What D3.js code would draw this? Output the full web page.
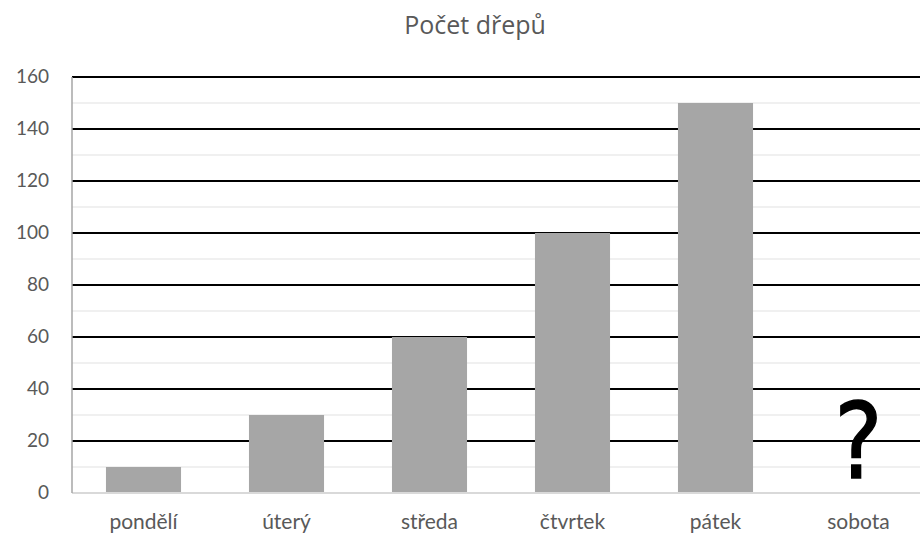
<html>
<head>
<meta charset="utf-8">
<script src="https://d3js.org/d3.v7.min.js"></script>
<style>
body { margin: 0; background: #fff; }
svg { display: block; }
</style>
</head>
<body>
<svg></svg>
<script>
var width = 920;
var height = 537;

// data
var days = ["pondělí", "úterý", "středa", "čtvrtek", "pátek", "sobota"];
var squats = [10, 30, 60, 100, 150, null];
var majorTicks = [0, 20, 40, 60, 80, 100, 120, 140, 160];
var minorTicks = [10, 30, 50, 70, 90, 110, 130, 150];

var margin = { top: 77, left: 72, bottom: 44 };
var plotRight = 930;

var svg = d3.select("svg").attr("width", width).attr("height", height);

var x = d3.scaleBand().domain(days).range([margin.left, plotRight]).paddingInner(0.475).paddingOuter(0.2375);
var y = d3.scaleLinear().domain([0, 160]).range([height - margin.bottom, margin.top]);

// minor gridlines
svg.selectAll("line.minor").data(minorTicks).enter().append("line")
	.attr("class", "minor")
	.attr("x1", margin.left).attr("x2", width)
	.attr("y1", function (d) { return y(d); }).attr("y2", function (d) { return y(d); })
	.style("stroke", "#f0f0f0").style("stroke-width", 2);

// major gridlines
svg.selectAll("line.major").data(majorTicks.filter(function (d) { return d > 0; })).enter().append("line")
	.attr("class", "major")
	.attr("x1", margin.left).attr("x2", width)
	.attr("y1", function (d) { return y(d); }).attr("y2", function (d) { return y(d); })
	.style("stroke", "#000").style("stroke-width", 2);

// bars
var barData = days.map(function (d, i) { return { day: d, value: squats[i] }; });
svg.selectAll("rect.bar").data(barData.filter(function (d) { return d.value !== null; })).enter().append("rect")
	.attr("class", "bar")
	.attr("x", function (d) { return x(d.day); })
	.attr("width", x.bandwidth())
	.attr("y", function (d) { return y(d.value); })
	.attr("height", function (d) { return y(0) - y(d.value); })
	.style("fill", "#a6a6a6");

// axes lines
svg.append("line")
	.attr("x1", margin.left).attr("x2", width)
	.attr("y1", y(0)).attr("y2", y(0))
	.style("stroke", "#d9d9d9").style("stroke-width", 2);
svg.append("line")
	.attr("x1", margin.left).attr("x2", margin.left)
	.attr("y1", y(160)).attr("y2", y(0))
	.style("stroke", "#a6a6a6").style("stroke-width", 1.5);

// y tick labels
svg.selectAll("text.ytick").data(majorTicks).enter().append("text")
	.attr("class", "ytick")
	.attr("x", 49)
	.attr("y", function (d) { return y(d) - 1; })
	.attr("dy", "0.35em")
	.attr("text-anchor", "end")
	.style("font-family", "Lato, 'Open Sans', sans-serif")
	.style("font-size", "19px")
	.style("fill", "#595959")
	.text(function (d) { return d; });

// category labels
svg.selectAll("text.xtick").data(days).enter().append("text")
	.attr("class", "xtick")
	.attr("x", function (d) { return x(d) + x.bandwidth() / 2; })
	.attr("y", y(0) + 29)
	.attr("dy", "0.35em")
	.attr("text-anchor", "middle")
	.style("font-family", "Lato, 'Open Sans', sans-serif")
	.style("font-size", "21px")
	.style("fill", "#595959")
	.text(function (d) { return d; });

// question mark for saturday
var qx = x("sobota") + x.bandwidth() / 2;
svg.append("text")
	.attr("x", qx)
	.attr("y", y(0) - 15)
	.attr("text-anchor", "middle")
	.style("font-family", "'DejaVu Sans', sans-serif")
	.style("font-size", "106px")
	.style("fill", "#000")
	.style("stroke", "#000")
	.style("stroke-width", 1.5)
	.attr("transform", "translate(" + qx + ",0) scale(0.86,1) translate(" + (-qx) + ",0)")
	.text("?");

// title
svg.append("text")
	.attr("x", 475)
	.attr("y", 34)
	.attr("text-anchor", "middle")
	.style("font-family", "'Open Sans', sans-serif")
	.style("font-size", "25px")
	.style("fill", "#595959")
	.text("Počet dřepů");
</script>
</body>
</html>
